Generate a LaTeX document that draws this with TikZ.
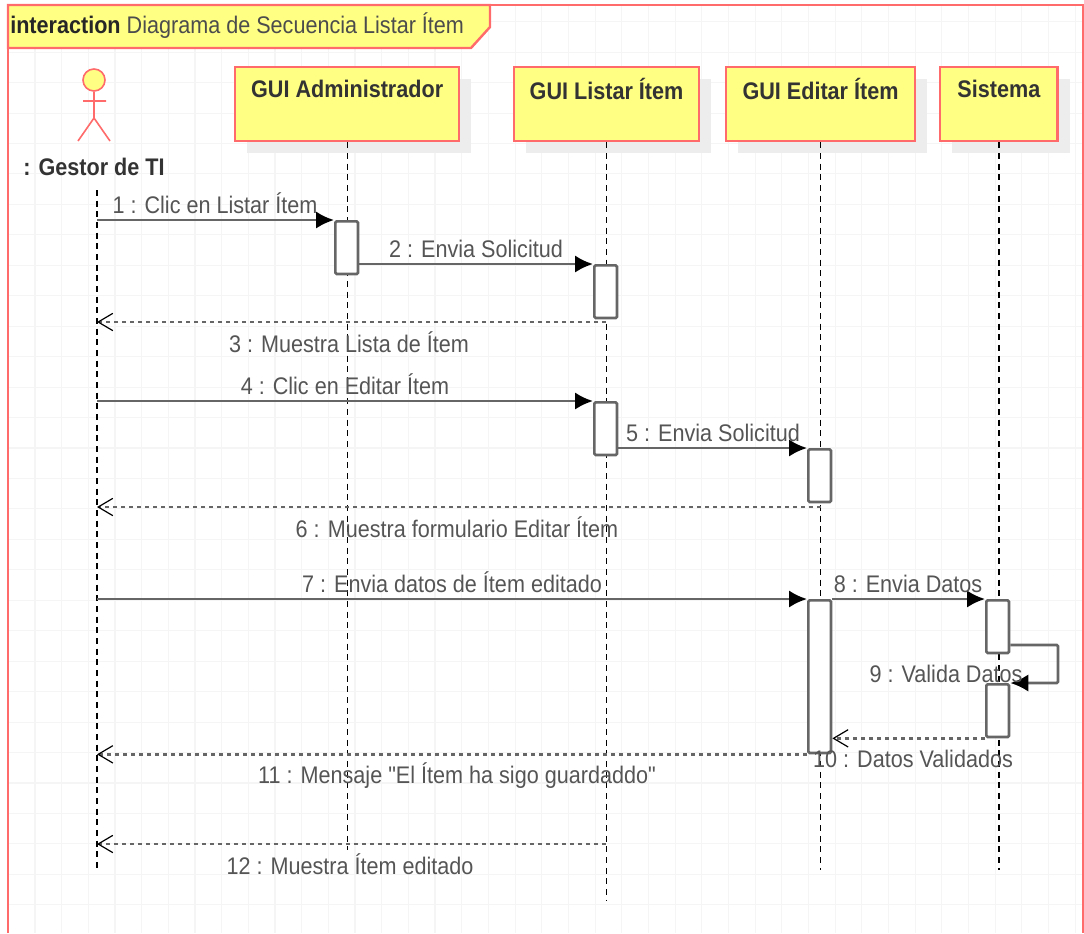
\documentclass[tikz,border=0pt]{standalone}
\usepackage{fontspec}
\setmainfont[FakeStretch=0.9,Ligatures=TeXOff]{Liberation Sans}
\usetikzlibrary{arrows.meta,shadows}
\definecolor{umlfill}{HTML}{FFFF84}
\definecolor{umlred}{HTML}{FF6A6A}
\definecolor{msggray}{HTML}{666666}
\definecolor{txtgray}{HTML}{555555}
\tikzset{
  lifehead/.style={draw=umlred,fill=umlfill,line width=1.8pt,anchor=north west,align=center,
    font=\fontsize{18}{23}\selectfont\bfseries,text=black!80,inner sep=0pt,
    execute at begin node=\rule{0pt}{15pt},
    drop shadow={shadow xshift=9pt,shadow yshift=-9pt,fill=black!7,opacity=1}},
  lifeline/.style={black,dash pattern=on 4.5pt off 3.5pt,line width=1pt},
  actbox/.style={draw=msggray,fill=white,line width=2pt,rounded corners=1pt,anchor=north west,
    minimum width=17pt,inner sep=0pt},
  msg/.style={msggray,line width=2pt,-{Latex[black,length=13.5pt,width=13pt]}},
  retmsg/.style={msggray,line width=2pt,dash pattern=on 3pt off 3pt,-{Straight Barb[black,length=11pt,width=13pt,line width=.9pt]}},
  msglabel/.style={text=txtgray,font=\fontsize{18}{20}\selectfont,inner sep=0pt,text height=14pt,text depth=3pt},
}
\begin{document}
\begin{tikzpicture}[x=.75pt,y=-.75pt]
    \useasboundingbox (0,0) rectangle (1084,933);
    \fill[white] (0,0) rectangle (1084,933);
    %% grid
    \foreach \gx in {0,...,40} \draw[black!4,line width=.8pt] (8.3+26.67*\gx,5) -- (8.3+26.67*\gx,933);
    \foreach \gy in {0,...,29} \draw[black!4,line width=.8pt] (8,21.7+30.45*\gy) -- (1084,21.7+30.45*\gy);
    %% frame
    \draw[umlred,line width=1.8pt] (8,933) -- (8,5) -- (1083,5) -- (1083,933);
    \draw[umlred,fill=umlfill,line width=1.8pt] (8,5) -- (490,5) -- (490,27) -- (471,48) -- (8,48) -- cycle;
    \node[anchor=west,inner sep=0pt,font=\fontsize{18}{20}\selectfont,text=black!70] (title) at (10,26)
        {{\bfseries\color{black!85}interaction} Diagrama de Secuencia Listar Ítem};
    %% actor
    \node[circle,draw=umlred,fill=umlfill,line width=1.2pt,minimum size=22pt*.75,inner sep=0pt] (head) at (94,80) {};
    \coordinate (hip) at (94,118);
    \coordinate (armL) at (83,101);
    \coordinate (armR) at (106,101);
    \coordinate (footL) at (78,141);
    \coordinate (footR) at (110,141);
    \draw[umlred,line width=1.2pt] (head) -- (hip) (armL) -- (armR) (footL) -- (hip) -- (footR);
    \node[font=\fontsize{18}{20}\selectfont\bfseries,text=black!80,inner sep=0pt] (gestor) at (94,167) {: Gestor de TI};
    %% lifelines
    \node[lifehead,minimum width=168pt,minimum height=55.5pt] (admin) at (234,66) {GUI Administrador\\~};
    \node[lifehead,minimum width=138.5pt,minimum height=55.5pt] (listar) at (513,66) {GUI Listar Ítem\\~};
    \node[lifehead,minimum width=141.5pt,minimum height=55.5pt] (editar) at (725,66) {GUI Editar Ítem\\~};
    \node[lifehead,minimum width=88pt,minimum height=55.5pt] (sistema) at (939,66) {Sistema\\~};
    \coordinate (gestorTop) at (97,190);
    \coordinate (gestorEnd) at (97,870);
    \coordinate (adminEnd) at (admin.south |- 0,850);
    \coordinate (listarEnd) at (listar.south |- 0,900);
    \coordinate (editarEnd) at (editar.south |- 0,870);
    \coordinate (sistemaEnd) at (sistema.south |- 0,870);
    \draw[lifeline] (gestorTop) -- (gestorEnd);
    \draw[lifeline] (admin) -- (adminEnd);
    \draw[lifeline] (listar) -- (listarEnd);
    \draw[lifeline] (editar) -- (editarEnd);
    \draw[lifeline] (sistema) -- (sistemaEnd);
    %% activations
    \node[actbox,minimum height=39.5pt] (actA) at (334,220) {};
    \node[actbox,minimum height=39.5pt] (actB) at (593,264) {};
    \node[actbox,minimum height=39.5pt] (actC) at (593,401) {};
    \node[actbox,minimum height=39.5pt] (actD) at (807,448) {};
    \node[actbox,minimum height=114.5pt] (actE) at (807,599) {};
    \node[actbox,minimum height=39.5pt] (actF) at (985,599) {};
    \node[actbox,minimum height=39.5pt] (actG) at (985,683) {};
    %% messages
    \coordinate (m1) at (gestorTop |- actA.north);
    \coordinate (m2) at (actA.east |- actB.north);
    \coordinate (m3s) at (606,322);
    \coordinate (m3e) at (gestorTop |- m3s);
    \coordinate (m4) at (gestorTop |- actC.north);
    \coordinate (m5) at (actC.east |- actD.north);
    \coordinate (m6s) at (821,507);
    \coordinate (m6e) at (gestorTop |- m6s);
    \coordinate (m7) at (gestorTop |- actE.north);
    \coordinate (m9) at (actF.east |- 0,645);
    \coordinate (m9c) at (1058,645);
    \coordinate (m9d) at (m9c |- actG.north);
    \coordinate (m11e) at (gestorTop |- actE.south);
    \coordinate (m12s) at (606,844);
    \coordinate (m12e) at (gestorTop |- m12s);
    \draw[msg] (m1) -- (actA.north west);
    \draw[msg] (m2) -- (actB.north west);
    \draw[retmsg] (m3s) -- (m3e);
    \draw[msg] (m4) -- (actC.north west);
    \draw[msg] (m5) -- (actD.north west);
    \draw[retmsg] (m6s) -- (m6e);
    \draw[msg] (m7) -- (actE.north west);
    \draw[msg] (actE.north east) -- (actF.north west);
    \draw[msg,rounded corners=1pt] (m9) -- (m9c) -- (m9d) -- (actG.north east);
    \draw[retmsg] (actG.south west) -- (actE.east |- actG.south);
    \draw[retmsg] (actE.south west) -- (m11e);
    \draw[retmsg] (m12s) -- (m12e);
    %% labels
    \node[msglabel] (l1) at (215,206) {1 : Clic en Listar Ítem};
    \node[msglabel] (l2) at (476,250) {2 : Envia Solicitud};
    \node[msglabel] (l3) at (349,345) {3 : Muestra Lista de Ítem};
    \node[msglabel] (l4) at (345,387) {4 : Clic en Editar Ítem};
    \node[msglabel] (l5) at (713,434) {5 : Envia Solicitud};
    \node[msglabel] (l6) at (457,530) {6 : Muestra formulario Editar Ítem};
    \node[msglabel] (l7) at (452,585) {7 : Envia datos de Ítem editado};
    \node[msglabel] (l8) at (908,585) {8 : Envia Datos};
    \node[msglabel] (l9) at (946,675) {9 : Valida Datos};
    \node[msglabel] (l10) at (913,760) {10 : Datos Validados};
    \node[msglabel] (l11) at (457,776) {11 : Mensaje "El Ítem ha sigo guardaddo"};
    \node[msglabel] (l12) at (350,867) {12 : Muestra Ítem editado};
\end{tikzpicture}
\end{document}
